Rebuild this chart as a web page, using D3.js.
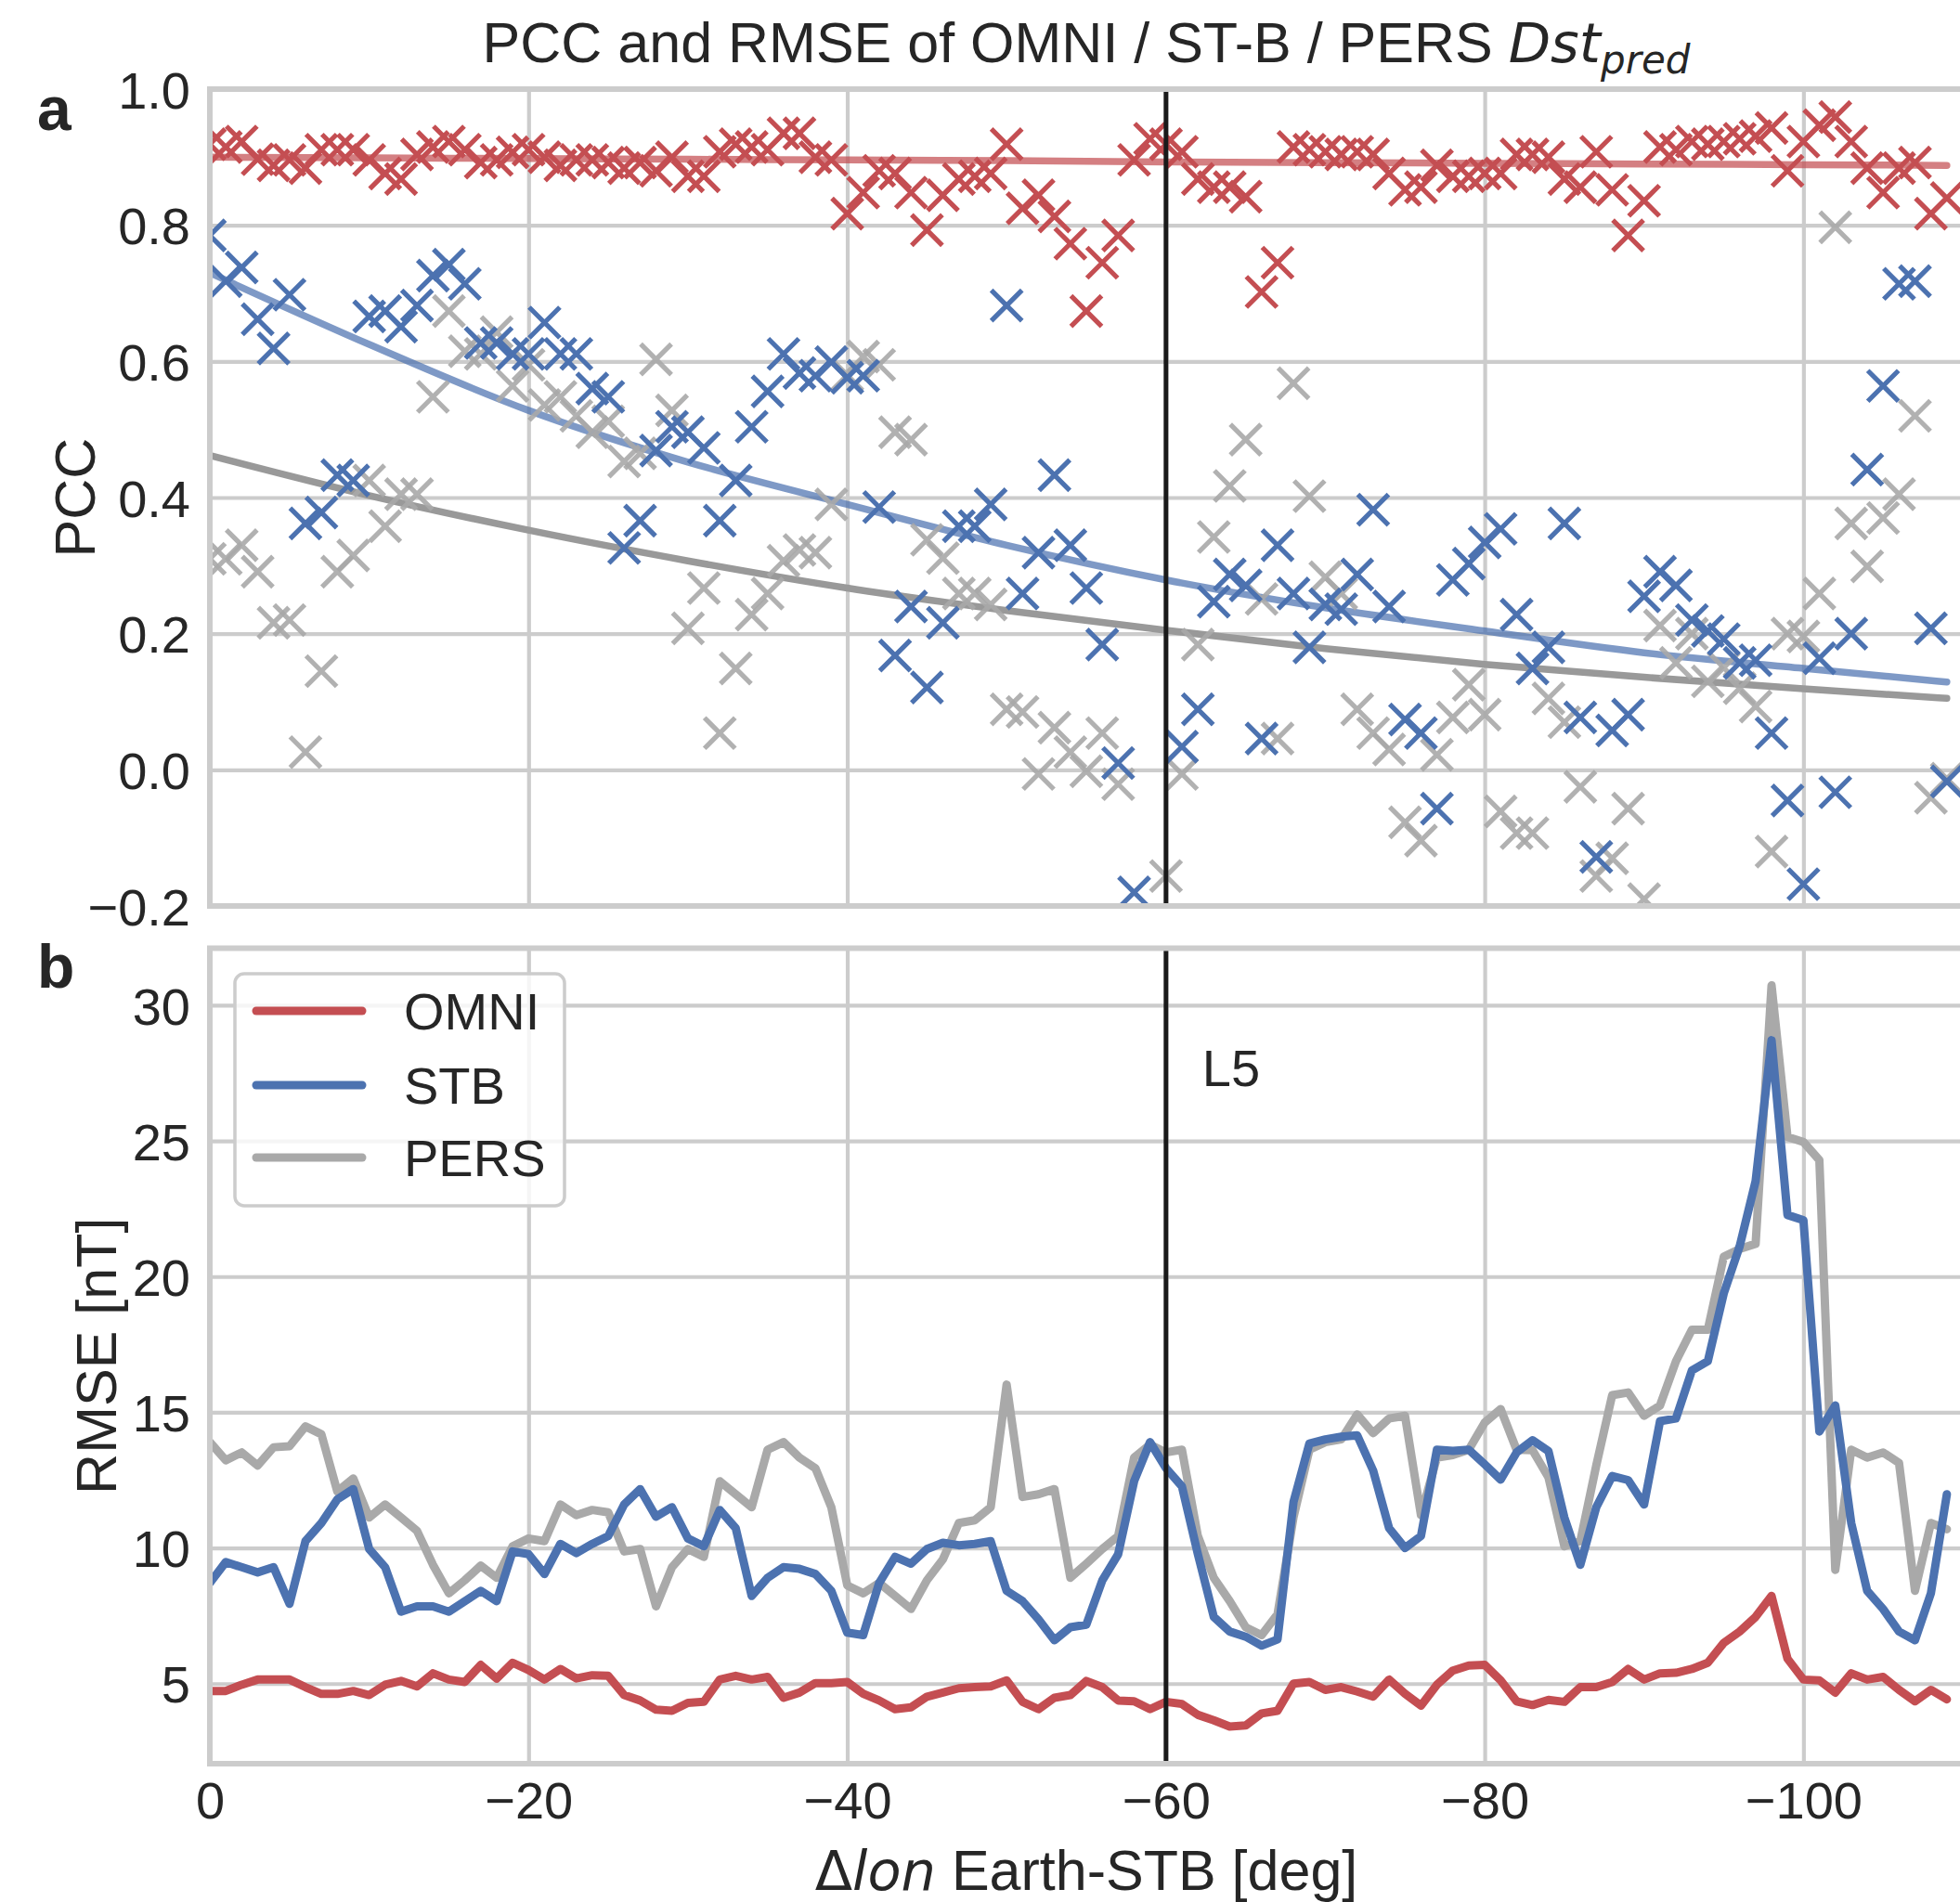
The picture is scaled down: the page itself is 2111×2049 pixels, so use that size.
<!DOCTYPE html>
<html>
<head>
<meta charset="utf-8">
<script src="https://cdn.jsdelivr.net/npm/d3@7"></script>
<style>
  body { margin: 0; background: #ffffff; }
  svg { display: block; }
</style>
</head>
<body>
<svg id="chart" width="2111" height="2049"></svg>
<script>
// ---------------- DATA ----------------
const lonDiff = [0,-1,-2,-3,-4,-5,-6,-7,-8,-9,-10,-11,-12,-13,-14,-15,-16,-17,-18,-19,
  -20,-21,-22,-23,-24,-25,-26,-27,-28,-29,-30,-31,-32,-33,-34,-35,-36,-37,-38,-39,
  -40,-41,-42,-43,-44,-45,-46,-47,-48,-49,-50,-51,-52,-53,-54,-55,-56,-57,-58,-59,
  -60,-61,-62,-63,-64,-65,-66,-67,-68,-69,-70,-71,-72,-73,-74,-75,-76,-77,-78,-79,
  -80,-81,-82,-83,-84,-85,-86,-87,-88,-89,-90,-91,-92,-93,-94,-95,-96,-97,-98,-99,
  -100,-101,-102,-103,-104,-105,-106,-107,-108,-109];

const pccOmni = [0.919,0.915,0.923,0.897,0.888,0.896,0.884,0.911,0.911,0.911,
  0.896,0.876,0.868,0.904,0.915,0.923,0.911,0.892,0.896,0.907,
  0.911,0.900,0.888,0.896,0.896,0.892,0.884,0.892,0.880,0.900,
  0.872,0.872,0.908,0.919,0.915,0.911,0.935,0.935,0.900,0.896,
  0.817,0.848,0.880,0.876,0.848,0.793,0.844,0.868,0.872,0.876,
  0.919,0.825,0.844,0.813,0.773,0.674,0.745,0.785,0.896,0.927,
  0.919,0.908,0.868,0.856,0.856,0.842,0.702,0.745,0.915,0.911,
  0.908,0.904,0.908,0.904,0.876,0.852,0.856,0.888,0.872,0.872,
  0.876,0.876,0.904,0.904,0.900,0.868,0.856,0.908,0.852,0.785,
  0.836,0.915,0.911,0.923,0.919,0.923,0.927,0.931,0.943,0.880,
  0.923,0.947,0.959,0.923,0.884,0.848,0.884,0.892,0.817,0.840];

const pccStb = [0.785,0.718,0.738,0.662,0.619,0.698,0.362,0.378,0.433,0.425,
  0.666,0.674,0.651,0.682,0.726,0.742,0.714,0.627,0.627,0.611,
  0.611,0.657,0.611,0.611,0.560,0.548,0.326,0.366,0.469,0.504,
  0.496,0.473,0.366,0.425,0.504,0.556,0.611,0.583,0.579,0.599,
  0.576,0.579,0.386,0.168,0.240,0.121,0.216,0.358,0.358,0.390,
  0.682,0.259,0.319,0.433,0.330,0.267,0.184,0.010,-0.180,null,
  null,0.034,0.089,0.247,0.287,0.271,0.046,0.330,0.259,0.180,
  0.243,0.236,0.287,0.382,0.240,0.074,0.054,-0.057,0.279,0.303,
  0.334,0.354,0.228,0.149,0.180,0.362,0.077,-0.128,0.058,0.081,
  0.255,0.291,0.271,0.220,0.204,0.192,0.157,0.161,0.054,-0.045,
  -0.168,0.164,-0.033,0.200,0.441,0.564,0.714,0.718,0.208,-0.017];

const pccPers = [0.310,0.310,0.330,0.291,0.216,0.220,0.026,0.145,0.291,0.315,
  0.425,0.358,0.405,0.405,0.548,0.674,0.615,0.611,0.643,0.564,
  0.595,0.536,0.548,0.520,0.496,0.512,0.453,0.465,0.603,0.528,
  0.208,0.267,0.054,0.149,0.228,0.259,0.307,0.323,0.319,0.390,
  0.580,0.607,0.595,0.496,0.485,0.338,0.311,0.259,0.259,0.243,
  0.089,0.085,-0.006,0.062,0.026,-0.002,0.054,-0.021,null,null,
  -0.156,-0.006,0.184,0.342,0.417,0.485,0.251,0.046,0.568,0.402,
  0.283,0.259,0.089,0.054,0.030,-0.077,-0.104,0.022,0.077,0.125,
  0.081,-0.061,-0.093,-0.093,0.105,0.070,-0.025,-0.156,-0.130,-0.057,
  -0.190,0.212,0.157,0.200,0.130,0.150,0.120,0.093,-0.120,0.200,
  0.196,0.259,0.797,0.362,0.299,0.370,0.405,0.520,-0.041,-0.013];

// fitted trend curves, read at sample longitudes
const fitLon  = [0,-10,-20,-30,-40,-50,-60,-70,-80,-90,-100,-109];
const fitOmni = [0.900,0.899,0.898,0.897,0.896,0.895,0.893,0.892,0.891,0.890,0.889,0.888];
const fitStb  = [0.730,0.625,0.528,0.452,0.390,0.330,0.279,0.238,0.204,0.172,0.149,0.129];
const fitPers = [0.462,0.403,0.352,0.307,0.267,0.234,0.205,0.178,0.155,0.136,0.119,0.105];

const rmseOmni = [4.73,4.73,4.96,5.15,5.15,5.15,4.87,4.62,4.62,4.73,
  4.58,4.96,5.10,4.90,5.38,5.15,5.06,5.69,5.19,5.77,
  5.50,5.15,5.54,5.19,5.31,5.29,4.58,4.38,4.04,4.00,
  4.29,4.33,5.15,5.29,5.15,5.25,4.48,4.67,5.02,5.02,
  5.06,4.63,4.38,4.06,4.13,4.52,4.67,4.83,4.87,4.90,
  5.12,4.33,4.06,4.48,4.58,5.10,4.87,4.38,4.35,4.06,
  4.33,4.25,3.85,3.65,3.42,3.46,3.90,4.00,5.00,5.06,
  4.77,4.87,4.71,4.52,5.15,4.63,4.19,4.96,5.48,5.67,
  5.69,5.12,4.35,4.21,4.40,4.33,4.87,4.87,5.06,5.54,
  5.15,5.38,5.40,5.54,5.77,6.50,6.92,7.46,8.23,5.92,
  5.15,5.12,4.67,5.38,5.15,5.25,4.77,4.35,4.77,4.42];

const rmseStb = [8.71,9.48,9.29,9.10,9.29,7.94,10.25,10.92,11.79,12.17,
  9.96,9.29,7.65,7.85,7.85,7.65,8.04,8.42,8.04,9.87,
  9.77,9.04,10.15,9.81,10.15,10.44,11.60,12.17,11.15,11.50,
  10.35,10.06,11.40,10.73,8.23,8.90,9.29,9.23,9.04,8.42,
  6.88,6.79,8.71,9.67,9.42,9.96,10.19,10.10,10.15,10.25,
  8.42,8.04,7.37,6.60,7.08,7.17,8.80,9.77,12.46,13.90,
  12.94,12.27,9.77,7.46,6.92,6.73,6.40,6.63,11.69,13.85,
  14.00,14.10,14.15,12.85,10.73,10.00,10.44,13.62,13.58,13.62,
  13.08,12.52,13.52,13.97,13.57,11.12,9.38,11.50,12.65,12.50,
  11.60,14.67,14.77,16.54,16.88,19.38,21.12,23.52,28.71,22.27,
  22.08,14.29,15.25,10.92,8.42,7.75,6.92,6.60,8.33,11.98];

const rmsePers = [13.90,13.23,13.52,13.04,13.71,13.75,14.48,14.19,12.08,12.56,
  11.12,11.60,11.12,10.63,9.38,8.33,8.81,9.35,8.90,10.06,
  10.35,10.25,11.60,11.21,11.40,11.31,9.87,9.96,7.85,9.29,
  9.96,9.67,12.46,11.98,11.50,13.62,13.90,13.33,12.94,11.50,
  8.62,8.33,8.71,8.23,7.75,8.81,9.58,10.92,11.02,11.50,
  16.02,11.88,11.98,12.17,8.90,9.42,9.96,10.44,13.33,13.81,
  13.52,13.62,10.44,8.90,8.04,7.08,6.79,7.56,11.12,13.62,
  13.90,14.00,14.92,14.23,14.77,14.87,11.21,13.33,13.42,13.62,
  14.62,15.12,13.62,13.60,12.60,10.06,10.25,13.04,15.63,15.73,
  14.87,15.25,16.88,18.04,18.04,20.73,21.02,21.21,30.73,25.15,
  24.96,24.29,9.19,13.62,13.33,13.52,13.13,8.42,10.92,10.69];

const seriesNames = ["OMNI", "STB", "PERS"];
const xTicks = [0, -20, -40, -60, -80, -100];
const pccTicks = [-0.2, 0.0, 0.2, 0.4, 0.6, 0.8, 1.0];
const rmseTicks = [5, 10, 15, 20, 25, 30];
const l5Lon = -60;
const l5Label = "L5";
const titleMain = "PCC and RMSE of OMNI / ST-B / PERS ";

// ---------------- STYLE / LAYOUT ----------------
const C = { red: "#C44E52", blue: "#4C72B0", gray: "#A9A9A9", grid: "#CCCCCC", text: "#262626" };
const FONT = "'Liberation Sans', Arial, Helvetica, sans-serif";
const MATH = "'DejaVu Sans', sans-serif";
const L = 226, R = 2114;
const aTop = 96, aBot = 976;
const bTop = 1021.5, bBot = 1900;
const LW = 9;

const svg = d3.select("#chart");
svg.append("rect").attr("width", 2111).attr("height", 2049).attr("fill", "#fff");

const x = d3.scaleLinear().domain([0, -110]).range([L, R]);
const yA = d3.scaleLinear().domain([-0.2, 1.0]).range([aBot, aTop]);
const yB = d3.scaleLinear().domain([2.05, 32.1]).range([bBot, bTop]);

const defs = svg.append("defs");
defs.append("clipPath").attr("id", "clipA").append("rect")
  .attr("x", L).attr("y", aTop).attr("width", R - L).attr("height", aBot - aTop);
defs.append("clipPath").attr("id", "clipB").append("rect")
  .attr("x", L).attr("y", bTop).attr("width", R - L).attr("height", bBot - bTop);

function styleAxis(g, fontSize) {
  g.select(".domain").remove();
  g.selectAll(".tick line").attr("stroke", C.grid).attr("stroke-width", 4.2);
  g.selectAll(".tick text").attr("fill", C.text).attr("font-family", FONT).attr("font-size", fontSize);
}

// ---------- Panel a grid ----------
const gA = svg.append("g");
gA.append("g").attr("transform", `translate(0,${aBot})`)
  .call(d3.axisBottom(x).tickValues(xTicks).tickFormat("").tickSize(-(aBot - aTop)))
  .call(g => styleAxis(g, 56));
gA.append("g").attr("transform", `translate(${L},0)`)
  .call(d3.axisLeft(yA).tickValues(pccTicks).tickFormat(d3.format(".1f")).tickSize(-(R - L)).tickPadding(21))
  .call(g => styleAxis(g, 56))
  .call(g => g.selectAll(".tick text").attr("dy", "0.36em"));

// ---------- Panel b grid ----------
const gB = svg.append("g");
gB.append("g").attr("transform", `translate(0,${bBot})`)
  .call(d3.axisBottom(x).tickValues(xTicks).tickFormat(d3.format("d")).tickSize(-(bBot - bTop)).tickPadding(19))
  .call(g => styleAxis(g, 56));
gB.append("g").attr("transform", `translate(${L},0)`)
  .call(d3.axisLeft(yB).tickValues(rmseTicks).tickFormat(d3.format("d")).tickSize(-(R - L)).tickPadding(21))
  .call(g => styleAxis(g, 56))
  .call(g => g.selectAll(".tick text").attr("dy", "0.36em"));

// ---------- Panel a data ----------
const plotA = gA.append("g").attr("clip-path", "url(#clipA)");
const fitLine = d3.line().x(d => x(d[0])).y(d => yA(d[1])).curve(d3.curveMonotoneX);
[[fitOmni, C.red, 0.72], [fitStb, C.blue, 0.72], [fitPers, "#999999", 1]].forEach(([vals, col, op]) => {
  plotA.append("path")
    .attr("d", fitLine(fitLon.map((lon, i) => [lon, vals[i]])))
    .attr("fill", "none").attr("stroke", col).attr("stroke-opacity", op)
    .attr("stroke-width", 7.5).attr("stroke-linecap", "round");
});

const hs = 16.5;
const crossPath = `M${-hs},${-hs}L${hs},${hs}M${-hs},${hs}L${hs},${-hs}`;
[[pccOmni, C.red, 1], [pccPers, C.gray, 0.9], [pccStb, C.blue, 1]].forEach(([vals, col, op]) => {
  const pts = lonDiff.map((lon, i) => [lon, vals[i]]).filter(d => d[1] !== null);
  plotA.append("g").selectAll("path").data(pts).join("path")
    .attr("transform", d => `translate(${x(d[0])},${yA(d[1])})`)
    .attr("d", crossPath)
    .attr("fill", "none").attr("stroke", col).attr("stroke-opacity", op).attr("stroke-width", 5.2);
});

gA.append("line").attr("x1", x(l5Lon)).attr("x2", x(l5Lon)).attr("y1", aTop).attr("y2", aBot)
  .attr("stroke", "#1a1a1a").attr("stroke-width", 5);
gA.append("rect").attr("x", L).attr("y", aTop).attr("width", R - L).attr("height", aBot - aTop)
  .attr("fill", "none").attr("stroke", C.grid).attr("stroke-width", 6);

// ---------- Panel b data ----------
const plotB = gB.append("g").attr("clip-path", "url(#clipB)");
const rLine = d3.line().x(d => x(d[0])).y(d => yB(d[1]));
const rmseSeries = [
  { name: seriesNames[0], vals: rmseOmni, col: C.red },
  { name: seriesNames[1], vals: rmseStb, col: C.blue },
  { name: seriesNames[2], vals: rmsePers, col: C.gray }
];
[rmseSeries[2], rmseSeries[0], rmseSeries[1]].forEach(s => {
  plotB.append("path")
    .attr("d", rLine(lonDiff.map((lon, i) => [lon, s.vals[i]])))
    .attr("fill", "none").attr("stroke", s.col).attr("stroke-width", LW)
    .attr("stroke-linejoin", "round").attr("stroke-linecap", "round");
});
gB.append("line").attr("x1", x(l5Lon)).attr("x2", x(l5Lon)).attr("y1", bTop).attr("y2", bBot)
  .attr("stroke", "#1a1a1a").attr("stroke-width", 5);
gB.append("text").attr("x", x(l5Lon) + 39).attr("y", 1170)
  .attr("font-family", FONT).attr("font-size", 56).attr("fill", C.text).text(l5Label);
gB.append("rect").attr("x", L).attr("y", bTop).attr("width", R - L).attr("height", bBot - bTop)
  .attr("fill", "none").attr("stroke", C.grid).attr("stroke-width", 6);

// legend
const leg = gB.append("g");
leg.append("rect").attr("x", 253).attr("y", 1049).attr("width", 355).attr("height", 250)
  .attr("rx", 10).attr("fill", "#fff").attr("fill-opacity", 0.8)
  .attr("stroke", C.grid).attr("stroke-width", 3.5);
const legY = [1089, 1169, 1247];
rmseSeries.forEach((s, i) => {
  leg.append("line").attr("x1", 276).attr("x2", 390).attr("y1", legY[i]).attr("y2", legY[i])
    .attr("stroke", s.col).attr("stroke-width", LW).attr("stroke-linecap", "round");
  leg.append("text").attr("x", 435).attr("y", legY[i]).attr("dy", "0.36em")
    .attr("font-family", FONT).attr("font-size", 56).attr("fill", C.text).text(s.name);
});

// ---------- Titles and labels ----------
const title = svg.append("text").attr("x", (L + R) / 2).attr("y", 67).attr("text-anchor", "middle")
  .attr("font-family", FONT).attr("font-size", 61).attr("fill", C.text);
title.append("tspan").text(titleMain);
title.append("tspan").attr("font-family", MATH).attr("font-style", "italic").attr("font-size", 59).text("Dst");
title.append("tspan").attr("font-family", MATH).attr("font-style", "italic").attr("font-size", 42).attr("dy", 12).text("pred");

svg.append("text").attr("transform", "translate(102,536) rotate(-90)").attr("text-anchor", "middle")
  .attr("font-family", FONT).attr("font-size", 61).attr("fill", C.text).text("PCC");
svg.append("text").attr("transform", `translate(125,${(bTop + bBot) / 2}) rotate(-90)`).attr("text-anchor", "middle")
  .attr("font-family", FONT).attr("font-size", 61).attr("fill", C.text).text("RMSE [nT]");

const xl = svg.append("text").attr("x", (L + R) / 2).attr("y", 2036).attr("text-anchor", "middle")
  .attr("font-family", FONT).attr("font-size", 61).attr("fill", C.text);
xl.append("tspan").attr("font-family", MATH).attr("font-size", 59).text("Δ");
xl.append("tspan").attr("font-family", MATH).attr("font-style", "italic").attr("font-size", 59).text("lon");
xl.append("tspan").text(" Earth-STB [deg]");

svg.append("text").attr("x", 40).attr("y", 140).attr("font-family", FONT).attr("font-weight", "bold")
  .attr("font-size", 66).attr("fill", C.text).text("a");
svg.append("text").attr("x", 40).attr("y", 1064).attr("font-family", FONT).attr("font-weight", "bold")
  .attr("font-size", 66).attr("fill", C.text).text("b");
</script>
</body>
</html>
